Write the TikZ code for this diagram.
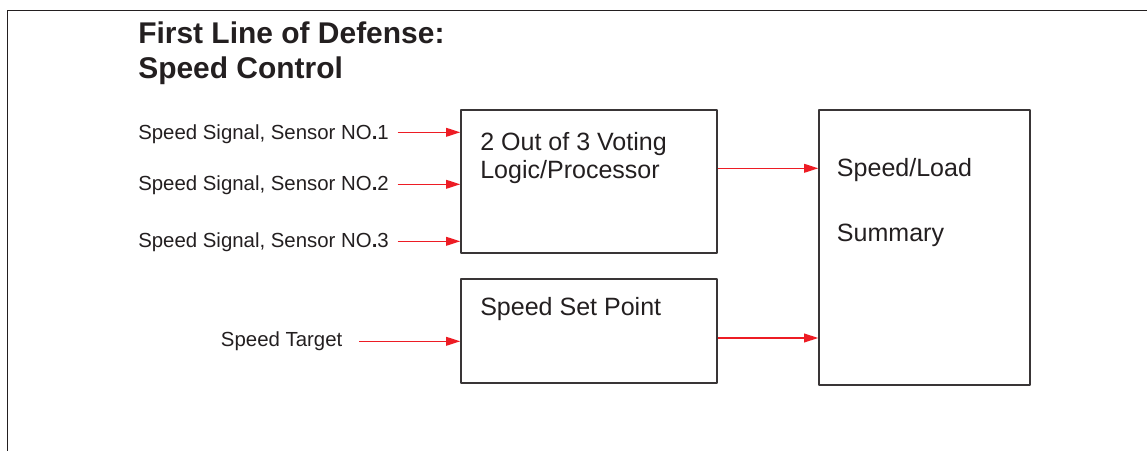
\documentclass[tikz,border=0pt]{standalone}
\usepackage{fontspec}
\setmainfont{Liberation Sans}
\usetikzlibrary{arrows.meta}
\definecolor{sigred}{HTML}{ED1C24}
\definecolor{ink}{HTML}{231F20}
\tikzset{
	box/.style={draw=ink!90,line width=1pt,inner sep=0pt},
	sig/.style={draw=sigred,line width=0.9pt,-{Triangle[length=10pt,width=6.2pt]}},
	lbl/.style={inner sep=0pt,text=ink,font=\fontsize{14.5}{17}\selectfont},
	boxtxt/.style={inner sep=0pt,text=ink,align=left,font=\fontsize{17.8}{19.9}\selectfont},
	ttl/.style={inner sep=0pt,text=ink,font=\bfseries\fontsize{21.3}{25}\selectfont}
}
\begin{document}
\begin{tikzpicture}[x=0.025cm,y=-0.025cm,line join=round]
	\useasboundingbox (0,0) rectangle (1147,451);
	% khung ngoai
	\draw[ink,line width=1.3pt] (7.5,451) -- (7.5,10.5) -- (1147,10.5);
	% tieu de
	\node[ttl,anchor=base west] (title1) at (138,44) {First Line of Defense:};
	\node[ttl,anchor=base west] (title2) at (138,79) {Speed Control};
	% cac khoi
	\node[box,minimum width=6.4cm,minimum height=3.575cm] (vote) at (589,181.5) {};
	\node[box,minimum width=6.4cm,minimum height=2.6cm] (setp) at (589,331) {};
	\node[box,minimum width=5.275cm,minimum height=6.875cm] (summ) at (924.5,247.5) {};
	\node[boxtxt,anchor=north west] (votetxt) at (480,132) {2 Out of 3 Voting\\Logic/Processor};
	\node[boxtxt,anchor=base west] (setptxt) at (480,316) {Speed Set Point};
	\node[boxtxt,anchor=north west] (summtxt) at (836.7,157.7) {Speed/Load\\[26.8pt]Summary};
	% tin hieu vao
	\node[lbl,anchor=base west] (sen1) at (138,140) {Speed Signal, Sensor NO\textbf{.}1};
	\node[lbl,anchor=base west] (sen2) at (138,191) {Speed Signal, Sensor NO\textbf{.}2};
	\node[lbl,anchor=base west] (sen3) at (138,248) {Speed Signal, Sensor NO\textbf{.}3};
	\node[lbl,anchor=base west] (target) at (220.7,347) {Speed Target};
	\coordinate (in1) at (397.7,132.3);
	\coordinate (in2) at (397.7,184.3);
	\coordinate (in3) at (397.7,241.3);
	\coordinate (tin) at (359,341.3);
	\draw[sig] (in1) -- (in1 -| vote.west);
	\draw[sig] (in2) -- (in2 -| vote.west);
	\draw[sig] (in3) -- (in3 -| vote.west);
	\draw[sig] (tin) -- (tin -| setp.west);
	% tin hieu ra
	\coordinate (vout) at ([yshift=0.33cm]vote.east);
	\coordinate (sout) at ([yshift=-0.175cm]setp.east);
	\draw[sig] (vout) -- (vout -| summ.west);
	\draw[sig] (sout) -- (sout -| summ.west);
\end{tikzpicture}
\end{document}
